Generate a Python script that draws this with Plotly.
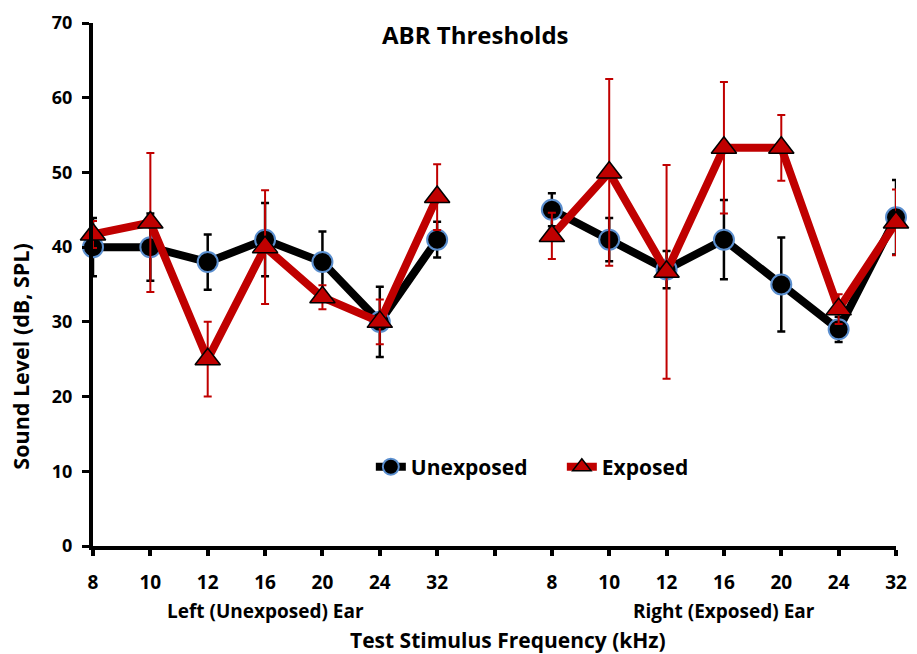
import plotly.graph_objects as go

freqs = ["8", "10", "12", "16", "20", "24", "32"]

left_unexposed = [40, 40, 38, 41, 38, 30, 41]
left_unexposed_err = [3.9, 4.5, 3.7, 4.9, 4.1, 4.7, 2.4]
right_unexposed = [45, 41, 37, 41, 35, 29, 44]
right_unexposed_err = [2.2, 2.9, 2.5, 5.3, 6.3, 1.7, 5.0]

left_exposed = [41.7, 43.3, 25, 40, 33.3, 30, 46.7]
left_exposed_err = [1.8, 9.3, 5.0, 7.6, 1.6, 3.0, 4.4]
right_exposed = [41.5, 50, 36.7, 53.3, 53.3, 31.7, 43.3]
right_exposed_err = [3.1, 12.5, 14.3, 8.8, 4.4, 2.0, 4.4]

x_pos = list(range(15))
tick_text = ["<b>%s</b>" % f for f in freqs] + [""] + ["<b>%s</b>" % f for f in freqs]

unexp_y = left_unexposed + [None] + right_unexposed
unexp_e = left_unexposed_err + [None] + right_unexposed_err
exp_y = left_exposed + [None] + right_exposed
exp_e = left_exposed_err + [None] + right_exposed_err

FONT = "Open Sans"
RED = "#C00000"

fig = go.Figure()
fig.add_trace(go.Scatter(
    x=x_pos, y=unexp_y, name="<b>Unexposed</b>", mode="lines+markers",
    line=dict(color="black", width=8),
    marker=dict(symbol="circle", size=20, color="black",
                line=dict(color="#5B8FCF", width=2)),
    error_y=dict(type="data", array=unexp_e, color="black", thickness=2.5, width=4),
    cliponaxis=False,
))
fig.add_trace(go.Scatter(
    x=x_pos, y=exp_y, name="<b>Exposed</b>", mode="lines+markers",
    line=dict(color=RED, width=8),
    marker=dict(symbol="triangle-up", size=22, color=RED,
                line=dict(color="black", width=1.5)),
    error_y=dict(type="data", array=exp_e, color=RED, thickness=2, width=4),
    cliponaxis=False,
))

yt = [0, 10, 20, 30, 40, 50, 60, 70]

fig.update_layout(
    width=917, height=654,
    margin=dict(l=93, r=10, t=21, b=108),
    paper_bgcolor="white", plot_bgcolor="white",
    font=dict(family=FONT, color="black"),
    showlegend=True,
    legend=dict(orientation="h", x=0.346, y=0.151, xanchor="left", yanchor="middle",
                font=dict(size=21, family=FONT), bgcolor="rgba(0,0,0,0)",
                itemwidth=30, entrywidth=146),
    xaxis=dict(range=[0, 14], tickvals=x_pos, ticktext=tick_text,
               showline=True, linecolor="black", linewidth=4, showgrid=False, zeroline=False,
               ticks="outside", ticklen=6, tickwidth=4, tickcolor="black",
               tickfont=dict(size=19, family=FONT), ticklabelstandoff=10,
               ticklabeloverflow="allow"),
    yaxis=dict(range=[0, 70], tickvals=yt, ticktext=["<b>%d</b>" % v for v in yt],
               showline=True, linecolor="black", linewidth=4, showgrid=False, zeroline=False,
               ticks="outside", ticklen=7, tickwidth=3, tickcolor="black",
               tickfont=dict(size=18, family=FONT), ticklabelstandoff=6),
    annotations=[
        dict(text="<b>ABR Thresholds</b>", xref="paper", yref="paper", x=0.4767, y=0.9785,
             xanchor="center", yanchor="middle",
             showarrow=False, font=dict(size=24, family=FONT)),
        dict(text="<b>Sound Level (dB, SPL)</b>", xref="paper", yref="paper", x=-0.0897, y=0.362,
             xanchor="center", yanchor="middle",
             textangle=-90, showarrow=False, font=dict(size=21.5, family=FONT)),
        dict(text="<b>Left (Unexposed) Ear</b>", xref="x", yref="paper", x=3, y=-0.1248,
             xanchor="center", yanchor="middle",
             showarrow=False, font=dict(size=19, family=FONT)),
        dict(text="<b>Right (Exposed) Ear</b>", xref="x", yref="paper", x=11, y=-0.1248,
             xanchor="center", yanchor="middle",
             showarrow=False, font=dict(size=19, family=FONT)),
        dict(text="<b>Test Stimulus Frequency (kHz)</b>", xref="paper", yref="paper", x=0.517, y=-0.1795,
             xanchor="center", yanchor="middle",
             showarrow=False, font=dict(size=21, family=FONT)),
    ],
)

fig.write_html("out.html")
